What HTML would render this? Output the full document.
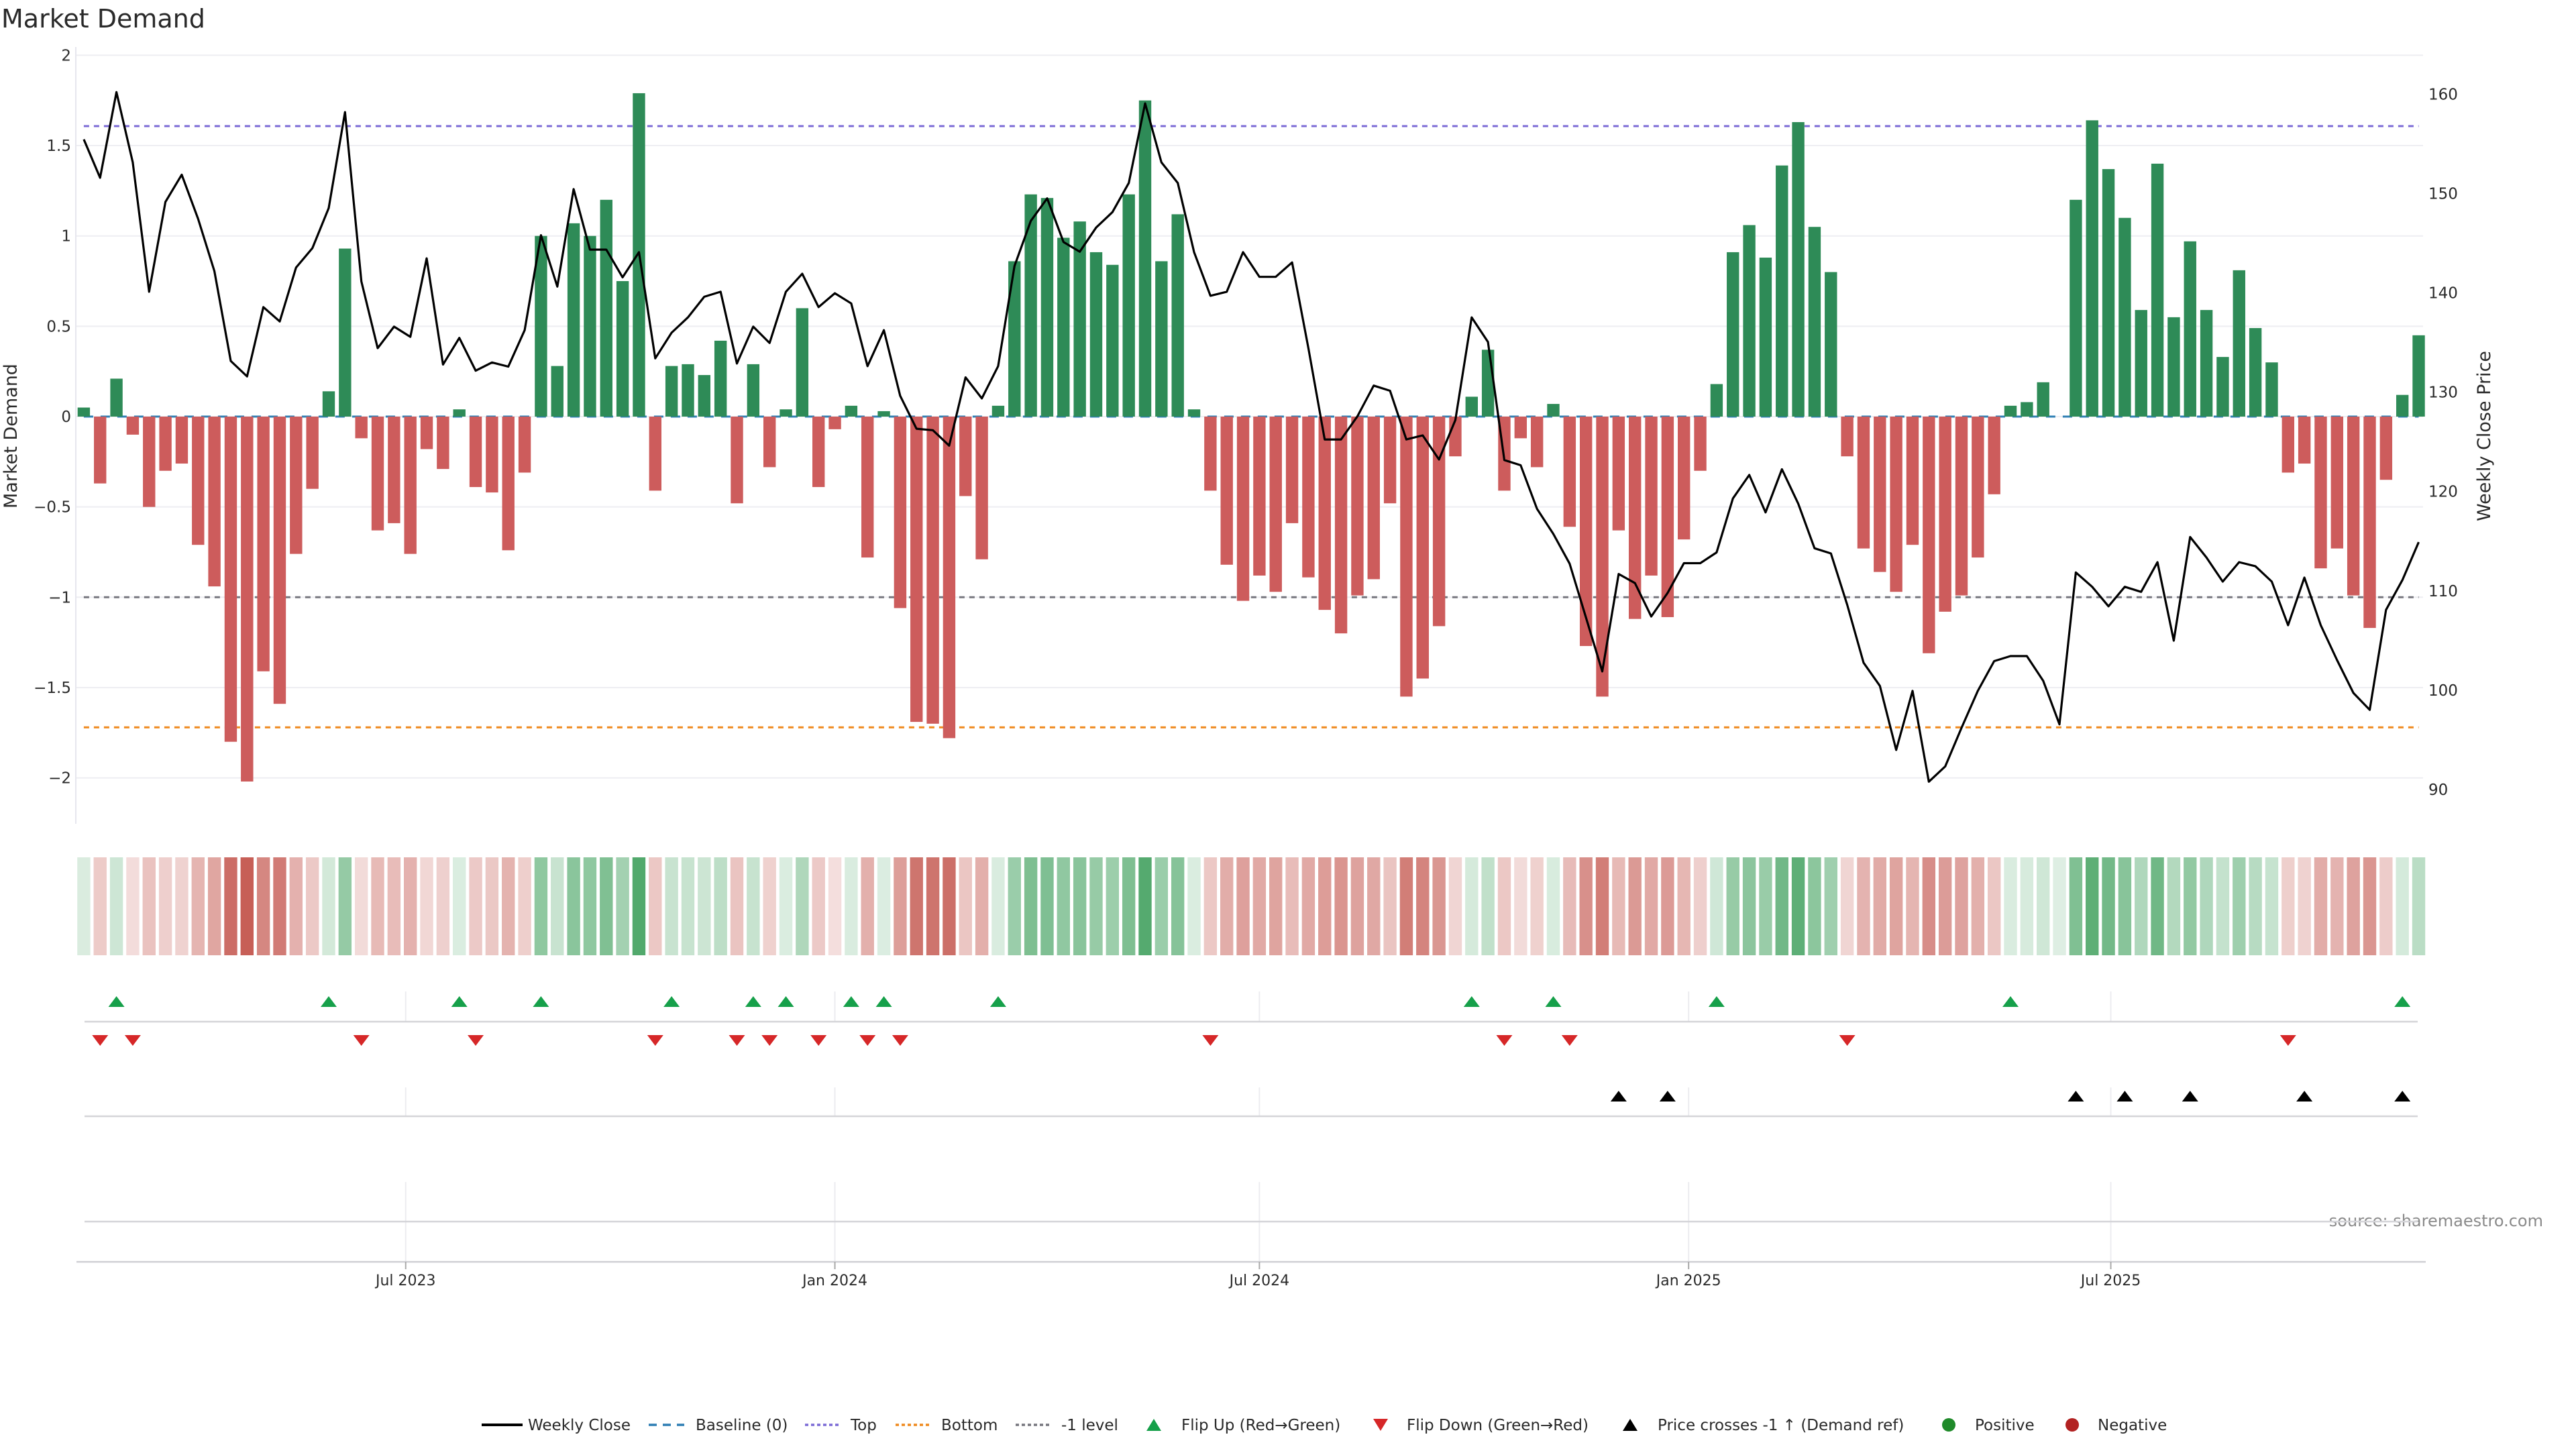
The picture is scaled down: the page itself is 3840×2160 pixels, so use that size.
<!DOCTYPE html>
<html><head><meta charset="utf-8"><title>Market Demand</title>
<style>
html,body{margin:0;padding:0;background:#fff;}
svg{display:block;font-family:"DejaVu Sans","Liberation Sans",sans-serif;}
</style></head>
<body>
<svg id="chart" width="3840" height="2160" viewBox="0 0 3840 2160" xmlns="http://www.w3.org/2000/svg">
<text x="2" y="41" font-size="38" fill="#2a2a2a">Market Demand</text>
<text transform="translate(25,650) rotate(-90)" text-anchor="middle" font-size="27" fill="#2a2a2a">Market Demand</text>
<text transform="translate(3712,650) rotate(-90)" text-anchor="middle" font-size="27" fill="#2a2a2a">Weekly Close Price</text>
<text x="3791" y="1828" text-anchor="end" font-size="24" fill="#8a8a8a">source: sharemaestro.com</text>
<g id="grid"></g><g id="refs"></g><g id="bars"></g><g id="line"></g><g id="heat"></g><g id="rows"></g><g id="xaxis"></g><g id="yaxes"></g><g id="legend"></g>
</svg>
<script>
// ---- data ----
const startDate = "2023-02-13";
const demand = [0.05,-0.37,0.21,-0.1,-0.5,-0.3,-0.26,-0.71,-0.94,-1.8,-2.02,-1.41,-1.59,-0.76,-0.4,0.14,0.93,-0.12,-0.63,-0.59,-0.76,-0.18,-0.29,0.04,-0.39,-0.42,-0.74,-0.31,1.0,0.28,1.07,1.0,1.2,0.75,1.79,-0.41,0.28,0.29,0.23,0.42,-0.48,0.29,-0.28,0.04,0.6,-0.39,-0.07,0.06,-0.78,0.03,-1.06,-1.69,-1.7,-1.78,-0.44,-0.79,0.06,0.86,1.23,1.21,0.99,1.08,0.91,0.84,1.23,1.75,0.86,1.12,0.04,-0.41,-0.82,-1.02,-0.88,-0.97,-0.59,-0.89,-1.07,-1.2,-0.99,-0.9,-0.48,-1.55,-1.45,-1.16,-0.22,0.11,0.37,-0.41,-0.12,-0.28,0.07,-0.61,-1.27,-1.55,-0.63,-1.12,-0.88,-1.11,-0.68,-0.3,0.18,0.91,1.06,0.88,1.39,1.63,1.05,0.8,-0.22,-0.73,-0.86,-0.97,-0.71,-1.31,-1.08,-0.99,-0.78,-0.43,0.06,0.08,0.19,0,1.2,1.64,1.37,1.1,0.59,1.4,0.55,0.97,0.59,0.33,0.81,0.49,0.3,-0.31,-0.26,-0.84,-0.73,-0.99,-1.17,-0.35,0.12,0.45];
const closePrice = [155.45,151.58,160.2,153.13,140.11,149.15,151.89,147.45,142.18,133.14,131.59,138.56,137.12,142.54,144.5,148.53,158.19,141.15,134.43,136.6,135.57,143.47,132.78,135.46,132.16,132.99,132.57,136.24,145.8,140.63,150.44,144.35,144.35,141.56,144.09,133.4,135.98,137.53,139.6,140.11,132.88,136.6,134.95,140.11,141.92,138.56,139.96,138.93,132.62,136.24,129.63,126.32,126.17,124.62,131.49,129.37,132.62,142.7,147.24,149.51,145.12,144.14,146.57,148.12,151.06,159.07,153.13,151.06,144.09,139.7,140.11,144.09,141.61,141.61,143.06,134.43,125.24,125.24,127.56,130.66,130.14,125.24,125.65,123.22,127.2,137.53,135.05,123.17,122.65,118.26,115.73,112.74,107.31,101.89,111.7,110.78,107.42,109.8,112.79,112.79,113.87,119.3,121.67,117.9,122.24,118.78,114.29,113.77,108.6,102.77,100.44,93.99,99.93,90.79,92.33,96.21,99.93,102.93,103.44,103.44,100.96,96.57,111.86,110.41,108.45,110.41,109.9,112.89,104.99,115.42,113.36,110.93,112.89,112.48,110.93,106.54,111.34,106.54,103.03,99.72,98.02,108.09,111.09,114.91];
const levelTop = 1.608, levelBottom = -1.72, levelMinus1 = -1.0;
const leftTicks = [2,1.5,1,0.5,0,-0.5,-1,-1.5,-2];
const leftTickLabels = ["2","1.5","1","0.5","0","−0.5","−1","−1.5","−2"];
const rightTicks = [160,150,140,130,120,110,100,90];
const xTickDates = ["2023-07-01","2024-01-01","2024-07-01","2025-01-01","2025-07-01"];
const xTickLabels = ["Jul 2023","Jan 2024","Jul 2024","Jan 2025","Jul 2025"];

// ---- scales ----
const NS="http://www.w3.org/2000/svg";
const DAY=86400000, t0=Date.parse(startDate);
const pxPerDay=24.34/7;
function xDate(ms){return 124.9+(ms-t0)/DAY*pxPerDay;}
function xIdx(i){return xDate(t0+i*7*DAY);}
function yL(v){return 621-269.3*v;}
function yR(p){return 140.3+14.81*(160-p);}
function mk(tag,attrs,parent,txt){const e=document.createElementNS(NS,tag);for(const k in attrs)e.setAttribute(k,attrs[k]);if(txt!==undefined)e.textContent=txt;parent.appendChild(e);return e;}
const G=id=>document.getElementById(id);
const X0=xIdx(0), X1=xIdx(demand.length-1);

// grid
for(const v of leftTicks){const l=mk('line',{x1:113,x2:3612,y1:yL(v),y2:yL(v),stroke:'#eeeef2','stroke-width':2},G('grid'));

}
const ax=mk('line',{x1:113,x2:113,y1:70,y2:1228,stroke:'#e6e6ee','stroke-width':2},G('grid'));



// reference lines
function refLine(v,color,name,dash){const l=mk('line',{x1:X0,x2:X1,y1:yL(v),y2:yL(v),stroke:color,'stroke-width':3,'stroke-dasharray':dash},G('refs'));

}
refLine(levelTop,'#7c6bd6','top-level-line','8,7');
refLine(levelBottom,'#ef8a1f','bottom-level-line','8,7');
refLine(levelMinus1,'#77777f','minus-one-level-line','8,7');

// bars
demand.forEach((v,i)=>{const x=xIdx(i);const y=Math.min(yL(v),yL(0));const h=Math.abs(yL(v)-yL(0));
const r=mk('rect',{x:x-9.2,y:y,width:18.4,height:Math.max(h,0.01),fill:v>=0?'#2e8b57':'#cd5c5c'},G('bars'));

});
const bl=mk('line',{x1:X0,x2:X1,y1:yL(0),y2:yL(0),stroke:'#2f7fb4','stroke-width':3,'stroke-dasharray':'14,11'},G('refs'));



// close line
const pts=closePrice.map((p,i)=>xIdx(i).toFixed(1)+','+yR(p).toFixed(1)).join(' ');
const pl=mk('polyline',{points:pts,fill:'none',stroke:'#000','stroke-width':3.2,'stroke-linejoin':'round'},G('line'));



// heatmap strip
function mix(c,a){return 'rgb('+c.map(k=>Math.round(255-(255-k)*a)).join(',')+')';}
const maxAbs=Math.max(...demand.map(Math.abs));
demand.forEach((v,i)=>{const a=0.17+0.8*Math.abs(v)/maxAbs;
const c=v>=0?mix([58,157,88],a):mix([197,90,82],a);
const r=mk('rect',{x:xIdx(i)-9.7,y:1278,width:19.4,height:146,fill:c},G('heat'));

});

// signal rows
const rowsG=G('rows');
[[1478,1523],[1621,1664],[1762,1821]].forEach(([a,b])=>{
 xTickDates.forEach(d=>{const x=xDate(Date.parse(d));const l=mk('line',{x1:x,x2:x,y1:a,y2:b+(b===1821?59:0),stroke:'#ececf0','stroke-width':2},rowsG);
 
 });
 const h=mk('line',{x1:126,x2:3604,y1:b,y2:b,stroke:'#d4d4d8','stroke-width':2.5},rowsG);
 
 
});
function tri(x,y,up,color,name){const w=12,h=8;const p=up?`${x-w},${y+h} ${x+w},${y+h} ${x},${y-h}`:`${x-w},${y-h} ${x+w},${y-h} ${x},${y+h}`;
const t=mk('polygon',{points:p,fill:color},rowsG);

}
const priceMinus1 = 160-(yL(levelMinus1)-140.3)/14.81;
for(let i=1;i<demand.length;i++){
 if(demand[i-1]<0&&demand[i]>0) tri(xIdx(i),1493,true,'#16a04a','flip-up-marker');
 if(demand[i-1]>0&&demand[i]<0) tri(xIdx(i),1551,false,'#d62728','flip-down-marker');
 if(closePrice[i-1]<priceMinus1&&closePrice[i]>=priceMinus1) tri(xIdx(i),1634,true,'#000','price-cross-marker');
}

// x axis
const xa=G('xaxis');
const xl=mk('line',{x1:114,x2:3616,y1:1881,y2:1881,stroke:'#cfcfd4','stroke-width':2.5},xa);


xTickDates.forEach((d,k)=>{const x=xDate(Date.parse(d));
 const tk=mk('line',{x1:x,x2:x,y1:1881,y2:1892,stroke:'#aaa','stroke-width':2},xa);
 
 
 const t=mk('text',{x:x,y:1916,'text-anchor':'middle','font-size':22,fill:'#2a2a2a'},xa,xTickLabels[k]);
 
 });

// y axes labels
const ya=G('yaxes');
leftTicks.forEach((v,k)=>{const t=mk('text',{x:106,y:yL(v)+8,'text-anchor':'end','font-size':23,fill:'#2a2a2a'},ya,leftTickLabels[k]);
 
 });
rightTicks.forEach(p=>{const t=mk('text',{x:3620,y:yR(p)+8,'font-size':23,fill:'#2a2a2a'},ya,String(p));
 
 });

// legend
const lg=G('legend');const LY=2124;
function ltxt(x,s){const t=mk('text',{x:x,y:LY+8,'font-size':23,fill:'#2a2a2a'},lg,s);

}
function lline(x1,x2,col,dash,w){const l=mk('line',{x1:x1,x2:x2,y1:LY,y2:LY,stroke:col,'stroke-width':w,'stroke-dasharray':dash},lg);

}
lline(718,779,'#000','none',4);ltxt(787,'Weekly Close');
lline(967,1020,'#2f7fb4','12,9',3.5);ltxt(1037,'Baseline (0)');
lline(1200,1252,'#7c6bd6','5,4',3.5);ltxt(1268,'Top');
lline(1335,1387,'#ef8a1f','5,4',3.5);ltxt(1403,'Bottom');
lline(1514,1566,'#77777f','5,4',3.5);ltxt(1582,'-1 level');
function ltri(x,up,col){const w=11,h=9;const p=up?`${x-w},${LY+h} ${x+w},${LY+h} ${x},${LY-h}`:`${x-w},${LY-h} ${x+w},${LY-h} ${x},${LY+h}`;
const t=mk('polygon',{points:p,fill:col},lg);

}
ltri(1720,true,'#16a04a');ltxt(1761,'Flip Up (Red→Green)');
ltri(2058,false,'#d62728');ltxt(2097,'Flip Down (Green→Red)');
ltri(2430,true,'#000');ltxt(2471,'Price crosses -1 ↑ (Demand ref)');
function ldot(x,col){const c=mk('circle',{cx:x,cy:LY,r:10,fill:col},lg);

}
ldot(2905,'#1f8a2a');ltxt(2944,'Positive');
ldot(3089,'#b22222');ltxt(3127,'Negative');
</script>
</body></html>
